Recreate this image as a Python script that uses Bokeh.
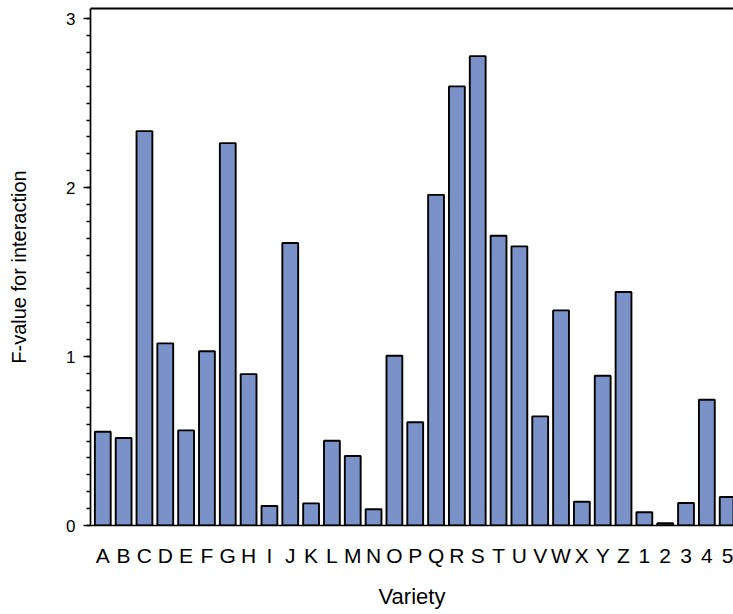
from bokeh.plotting import figure
from bokeh.models import Range1d, FixedTicker, LinearAxis
from bokeh.embed import file_html
from bokeh.resources import INLINE

varieties = list("ABCDEFGHIJKLMNOPQRSTUVWXYZ") + ["1", "2", "3", "4", "5"]
f_values = [0.555, 0.518, 2.334, 1.078, 0.563, 1.031, 2.263, 0.896, 0.115, 1.672,
            0.131, 0.502, 0.411, 0.096, 1.005, 0.611, 1.957, 2.599, 2.778, 1.715,
            1.652, 0.646, 1.273, 0.141, 0.886, 1.382, 0.078, 0.013, 0.133, 0.744,
            0.169]
y_ticks = [0, 1, 2, 3]
y_minor = [i / 10 for i in range(0, 31)]

x_pos = list(range(len(varieties)))
y_end = 3.06

p = figure(width=733, height=614, output_backend="svg", toolbar_location=None,
           x_range=Range1d(-0.59, 30.28), y_range=Range1d(0, y_end),
           min_border_left=90, min_border_right=0, min_border_top=8,
           min_border_bottom=89)

p.vbar(x=x_pos, top=f_values, width=0.76, bottom=0,
       fill_color="#7a92c8", line_color="black", line_width=1.9)

p.outline_line_color = None
p.grid.visible = False
p.background_fill_color = "white"
p.border_fill_color = "white"

font = "Liberation Sans"

yax = p.left[0]
yax.ticker = FixedTicker(ticks=y_ticks, minor_ticks=y_minor)
yax.axis_line_width = 1.7
yax.major_tick_out = 7
yax.major_tick_in = 0
yax.minor_tick_out = 4
yax.minor_tick_in = 0
yax.major_tick_line_width = 1.4
yax.minor_tick_line_width = 1.4
yax.major_label_text_font = font
yax.major_label_text_font_size = "17px"
yax.major_label_text_color = "black"
yax.major_label_standoff = 8
yax.axis_label = "F-value for interaction"
yax.axis_label_text_font = font
yax.axis_label_text_font_size = "20px"
yax.axis_label_text_font_style = "normal"
yax.axis_label_text_color = "black"
yax.axis_label_standoff = 33

xax = p.below[0]
xax.ticker = FixedTicker(ticks=x_pos)
xax.major_label_overrides = {i: v for i, v in enumerate(varieties)}
xax.axis_line_width = 1.7
xax.major_tick_line_color = None
xax.minor_tick_line_color = None
xax.major_label_text_font = font
xax.major_label_text_font_size = "21px"
xax.major_label_text_color = "black"
xax.major_label_standoff = 12
xax.axis_label = "Variety"
xax.axis_label_text_font = font
xax.axis_label_text_font_size = "22px"
xax.axis_label_text_font_style = "normal"
xax.axis_label_text_color = "black"
xax.axis_label_standoff = 14

top_axis = LinearAxis(ticker=FixedTicker(ticks=[]), axis_line_color="black",
                      axis_line_width=2, major_tick_line_color=None,
                      minor_tick_line_color=None, major_label_text_font_size="0px",
                      major_label_standoff=0)
p.add_layout(top_axis, "above")

open("out.html", "w").write(file_html(p, INLINE))
